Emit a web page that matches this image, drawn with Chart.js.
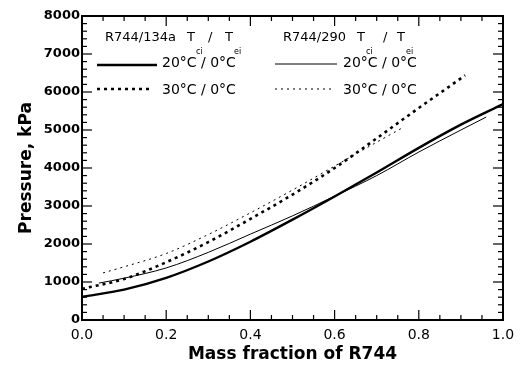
<!DOCTYPE html>
<html>
<head>
<meta charset="utf-8">
<script src="https://cdn.jsdelivr.net/npm/chart.js@4.4.0/dist/chart.umd.min.js"></script>
<style>
  html, body { margin: 0; padding: 0; background: #fff; }
  #wrap { width: 522px; height: 369px; }
</style>
</head>
<body>
<div id="wrap"><canvas id="pressureChart" width="522" height="369"></canvas></div>
<script>
// R744/134a, Tci/Tei = 20°C/0°C
const x134a20 = [0.0, 0.1, 0.2, 0.3, 0.4, 0.5, 0.6, 0.7, 0.8, 0.9, 1.0];
const p134a20 = [610, 800, 1110, 1540, 2060, 2640, 3250, 3880, 4530, 5140, 5680];
// R744/134a, 30°C/0°C
const x134a30 = [0.0, 0.1, 0.2, 0.3, 0.4, 0.5, 0.6, 0.7, 0.8, 0.9, 0.91];
const p134a30 = [820, 1080, 1520, 2050, 2660, 3300, 4000, 4780, 5580, 6360, 6440];
// R744/290, 20°C/0°C
const x290_20 = [0.04, 0.1, 0.2, 0.3, 0.4, 0.5, 0.6, 0.7, 0.8, 0.9, 0.96];
const p290_20 = [970, 1100, 1370, 1780, 2260, 2740, 3260, 3800, 4420, 5000, 5340];
// R744/290, 30°C/0°C
const x290_30 = [0.05, 0.1, 0.2, 0.3, 0.4, 0.5, 0.6, 0.7, 0.76];
const p290_30 = [1240, 1400, 1750, 2250, 2820, 3420, 4050, 4680, 5050];

const FONT = "'DejaVu Sans', sans-serif";

function pts(xs, ys) {
  return xs.map((v, i) => ({ x: v, y: ys[i] }));
}

function isMult(v, step) {
  return Math.abs(v / step - Math.round(v / step)) < 1e-6;
}

// inward ticks on all four sides + frame
const frameTicks = {
  id: 'frameTicks',
  afterDatasetsDraw(c) {
    const { ctx, chartArea: a, scales: { x, y } } = c;
    ctx.save();
    ctx.strokeStyle = '#000';
    ctx.lineWidth = 1.2;
    const seg = (x1, y1, x2, y2) => {
      ctx.beginPath(); ctx.moveTo(x1, y1); ctx.lineTo(x2, y2); ctx.stroke();
    };
    x.ticks.forEach(t => {
      const px = x.getPixelForValue(t.value);
      const len = isMult(t.value, 0.2) ? 10 : 5;
      seg(px, a.bottom, px, a.bottom - len);
      seg(px, a.top, px, a.top + len);
    });
    y.ticks.forEach(t => {
      const py = y.getPixelForValue(t.value);
      const len = isMult(t.value, 1000) ? 10 : 5;
      seg(a.left, py, a.left + len, py);
      seg(a.right, py, a.right - len, py);
    });
    ctx.lineWidth = 2;
    ctx.strokeRect(a.left, a.top, a.right - a.left, a.bottom - a.top);
    ctx.restore();
  }
};

// hand-made legend, like the figure
const legendBox = {
  id: 'legendBox',
  afterDraw(c) {
    const ctx = c.ctx;
    ctx.save();
    ctx.fillStyle = '#000';
    ctx.textBaseline = 'middle';
    ctx.textAlign = 'left';

    const tSub = (x, y, sub) => {
      ctx.font = '13px ' + FONT;
      ctx.fillText('T', x, y);
      ctx.font = '8px ' + FONT;
      ctx.fillText(sub, x + 9, y + 14);
    };
    const header = (x, label, tx1, sx, tx2) => {
      ctx.font = '13px ' + FONT;
      ctx.fillText(label, x, 38);
      tSub(tx1, 38, 'ci');
      ctx.font = '13px ' + FONT;
      ctx.fillText('/', sx, 38);
      tSub(tx2, 38, 'ei');
    };
    header(105, 'R744/134a', 187, 208, 225);
    header(283, 'R744/290', 357, 383, 397);

    const sample = (x1, x2, y, w, dash) => {
      ctx.save();
      ctx.lineWidth = w;
      ctx.setLineDash(dash);
      ctx.beginPath(); ctx.moveTo(x1, y); ctx.lineTo(x2, y); ctx.stroke();
      ctx.restore();
    };
    sample(97, 157, 65, 2.4, []);
    sample(97, 152, 89, 2.6, [3, 4]);
    sample(275, 337, 64, 1, []);
    sample(275, 335, 89, 1, [2, 4]);

    ctx.font = '14px ' + FONT;
    ctx.fillText('20°C / 0°C', 162, 63);
    ctx.fillText('30°C / 0°C', 162, 90);
    ctx.fillText('20°C / 0°C', 343, 63);
    ctx.fillText('30°C / 0°C', 343, 90);
    ctx.restore();
  }
};

const ctx = document.getElementById('pressureChart').getContext('2d');
new Chart(ctx, {
  type: 'scatter',
  data: {
    datasets: [
      { label: 'R744/134a 20°C/0°C', data: pts(x134a20, p134a20), borderWidth: 2.4, borderDash: [] },
      { label: 'R744/134a 30°C/0°C', data: pts(x134a30, p134a30), borderWidth: 2.6, borderDash: [3, 4] },
      { label: 'R744/290 20°C/0°C', data: pts(x290_20, p290_20), borderWidth: 1, borderDash: [] },
      { label: 'R744/290 30°C/0°C', data: pts(x290_30, p290_30), borderWidth: 1, borderDash: [2, 4] }
    ].map(d => Object.assign(d, {
      showLine: true,
      borderColor: '#000',
      backgroundColor: '#000',
      pointRadius: 0,
      cubicInterpolationMode: 'monotone',
      fill: false
    }))
  },
  options: {
    responsive: false,
    animation: false,
    devicePixelRatio: 1,
    layout: { padding: { top: 16, right: 19, left: 0, bottom: 0 } },
    plugins: {
      legend: { display: false },
      tooltip: { enabled: false }
    },
    scales: {
      x: {
        type: 'linear',
        min: 0,
        max: 1,
        afterFit(s) { s.height = 49; },
        grid: { display: false, drawTicks: false },
        border: { display: false },
        ticks: {
          stepSize: 0.05,
          autoSkip: false,
          maxRotation: 0,
          padding: 7,
          color: '#000',
          font: { family: FONT, size: 14 },
          callback: v => isMult(v, 0.2) ? v.toFixed(1) : ''
        },
        title: {
          display: true,
          text: 'Mass fraction of R744',
          color: '#000',
          font: { family: FONT, size: 17, weight: 'bold' },
          padding: { top: 0, bottom: 4 }
        }
      },
      y: {
        min: 0,
        max: 8000,
        afterFit(s) { s.width = 82; },
        grid: { display: false, drawTicks: false },
        border: { display: false },
        ticks: {
          stepSize: 200,
          autoSkip: false,
          padding: 2,
          color: '#000',
          font: { family: FONT, size: 13, weight: 'bold' },
          callback: v => isMult(v, 1000) ? String(v) : ''
        },
        title: {
          display: true,
          text: 'Pressure, kPa',
          color: '#000',
          font: { family: FONT, size: 17, weight: 'bold' },
          padding: { top: 16, bottom: 0 }
        }
      }
    }
  },
  plugins: [frameTicks, legendBox]
});
</script>
</body>
</html>
